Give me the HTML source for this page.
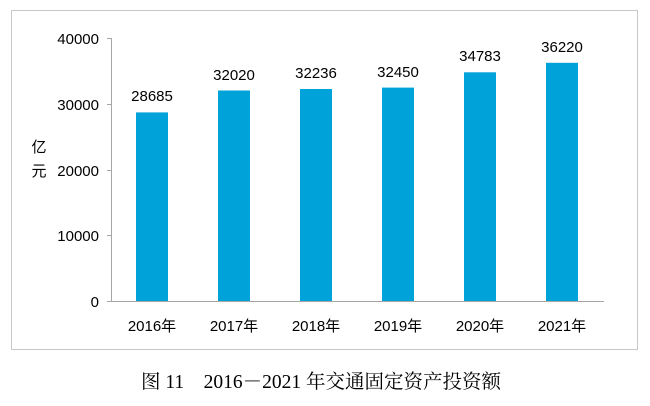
<!DOCTYPE html>
<html><head><meta charset="utf-8"><style>
body{margin:0;background:#fff;}
svg text{font-family:"Liberation Sans","Noto Sans CJK SC",sans-serif;fill:#000;}
</style></head><body>
<svg width="650" height="401" xmlns="http://www.w3.org/2000/svg">
<rect x="11.5" y="10.5" width="626" height="339" fill="#fff" stroke="#c8c8c8" stroke-width="1"/>
<line x1="111.5" y1="38" x2="111.5" y2="301" stroke="#a6a6a6"/>
<line x1="111" y1="301.5" x2="604" y2="301.5" stroke="#a6a6a6"/>
<g stroke="#a6a6a6">
<line x1="107" y1="38.5" x2="111" y2="38.5"/>
<line x1="107" y1="104.5" x2="111" y2="104.5"/>
<line x1="107" y1="170.5" x2="111" y2="170.5"/>
<line x1="107" y1="235.5" x2="111" y2="235.5"/>
<line x1="107" y1="301.5" x2="111" y2="301.5"/>
</g>
<g font-size="15" text-anchor="end">
<text x="99" y="44">40000</text>
<text x="99" y="110">30000</text>
<text x="99" y="176">20000</text>
<text x="99" y="241">10000</text>
<text x="99" y="307">0</text>
</g>
<text x="39" y="152" font-size="15" text-anchor="middle">亿</text>
<text x="39" y="176" font-size="15" text-anchor="middle">元</text>
<g fill="#00a2da">
<rect x="136" y="112.4" width="32" height="188.6"/>
<rect x="218" y="90.5" width="32" height="210.5"/>
<rect x="300" y="89.0" width="32" height="212"/>
<rect x="382" y="87.6" width="32" height="213.4"/>
<rect x="464" y="72.3" width="32" height="228.7"/>
<rect x="546" y="62.8" width="32" height="238.2"/>
</g>
<g font-size="15" text-anchor="middle">
<text x="152" y="101">28685</text>
<text x="234" y="80">32020</text>
<text x="316" y="78">32236</text>
<text x="398" y="77">32450</text>
<text x="480" y="61">34783</text>
<text x="562" y="52">36220</text>
<text x="152" y="331">2016年</text>
<text x="234" y="331">2017年</text>
<text x="316" y="331">2018年</text>
<text x="398" y="331">2019年</text>
<text x="480" y="331">2020年</text>
<text x="562" y="331">2021年</text>
</g>
<text x="321" y="388" font-size="19.5" text-anchor="middle" style='font-family:"Liberation Serif","Noto Serif CJK SC",serif'>图 11　2016－2021 年交通固定资产投资额</text>
</svg>
</body></html>
